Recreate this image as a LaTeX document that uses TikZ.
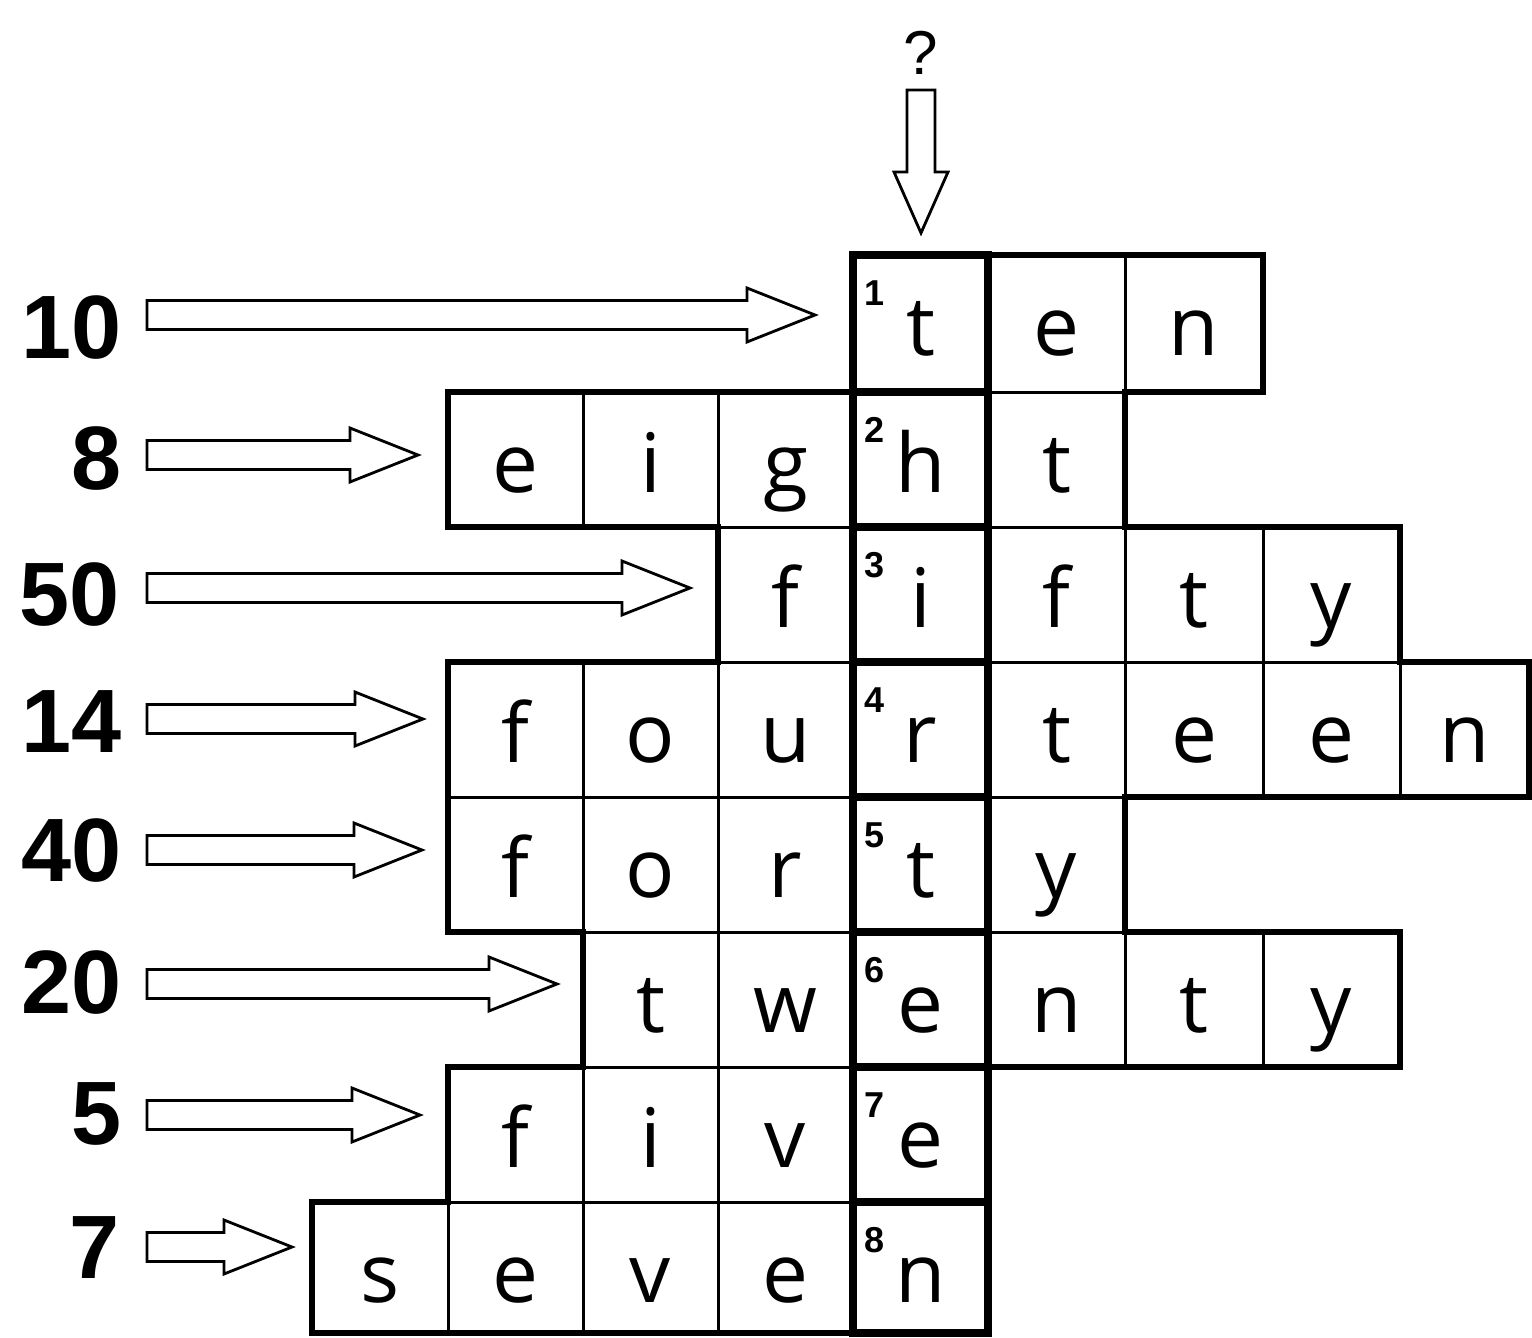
\documentclass[tikz,border=0pt]{standalone}
\usepackage{fontspec}
\setmainfont{Open Sans}
\newfontfamily\numfont{Liberation Sans}
\newcommand\wordrow[4]{%
  \foreach \xa/\xb/\ch in {#4} {%
    \draw[cellline] (\xa,#2) rectangle (\xb,#3);
    \node[letter] (L#1-\xa) at ({(\xa+\xb)/2},#2+100) {\ch};
  }%
}
\newcommand\blockarrow[4]{% name, tail x, tip x, y
  \coordinate (#1-tail) at (#2,#4);
  \coordinate (#1-tip) at (#3,#4);
  \draw[blk] (#2,#4-14.5) -- (#3-68,#4-14.5) -- (#3-68,#4-27) -- (#3,#4)
    -- (#3-68,#4+27) -- (#3-68,#4+14.5) -- (#2,#4+14.5) -- cycle;
}
\begin{document}
\begin{tikzpicture}[x=0.5pt,y=-0.5pt,
  cellline/.style={line width=1.5pt},
  outer/.style={line width=2.6pt,line join=miter},
  answer/.style={line width=4pt,line join=miter},
  blk/.style={line width=1.4pt,fill=white,line join=miter},
  letter/.style={anchor=base,inner sep=0pt,font=\fontsize{41}{41}\selectfont},
  clue/.style={anchor=east,inner sep=0pt,font=\numfont\bfseries\fontsize{45}{45}\selectfont},
  idx/.style={anchor=north west,inner sep=0pt,font=\numfont\bfseries\fontsize{18}{18}\selectfont},
  qmark/.style={anchor=base,inner sep=0pt,font=\numfont\fontsize{31}{31}\selectfont}]
\useasboundingbox (0,0) rectangle (1532,1338);
\fill[white] (0,0) rectangle (1532,1338);

% grid cells and letters
\wordrow{1}{255}{392}{853/988/t,988/1125/e,1125/1263/n}
\wordrow{2}{392}{527}{448/583/e,583/718/i,718/853/g,853/988/h,988/1125/t}
\wordrow{3}{527}{662}{718/853/f,853/988/i,988/1125/f,1125/1263/t,1263/1400/y}
\wordrow{4}{662}{797}{448/583/f,583/718/o,718/853/u,853/988/r,988/1125/t,1125/1263/e,1263/1400/e,1400/1529/n}
\wordrow{5}{797}{932}{448/583/f,583/718/o,718/853/r,853/988/t,988/1125/y}
\wordrow{6}{932}{1067}{583/718/t,718/853/w,853/988/e,988/1125/n,1125/1263/t,1263/1400/y}
\wordrow{7}{1067}{1202}{448/583/f,583/718/i,718/853/v,853/988/e}
\wordrow{8}{1202}{1333}{312/448/s,448/583/e,583/718/v,718/853/e,853/988/n}

% outer outline
\draw[outer] (853,255) -- (1263,255) -- (1263,392) -- (1125,392) -- (1125,527)
  -- (1400,527) -- (1400,662) -- (1529,662) -- (1529,797) -- (1125,797)
  -- (1125,932) -- (1400,932) -- (1400,1067) -- (988,1067) -- (988,1333)
  -- (312,1333) -- (312,1202) -- (448,1202) -- (448,1067) -- (583,1067)
  -- (583,932) -- (448,932) -- (448,662) -- (718,662) -- (718,527)
  -- (448,527) -- (448,392) -- (853,392) -- cycle;

% answer column
\foreach \n/\ya/\yb in {1/255/392,2/392/527,3/527/662,4/662/797,5/797/932,6/932/1067,7/1067/1202,8/1202/1333} {
  \draw[answer] (853,\ya) rectangle (988,\yb);
  \node[idx] (idx\n) at (864,\ya+25) {\n};
}

% clue numbers
\node[clue] (c10) at (122,328) {10};
\node[clue] (c8)  at (122,459) {8};
\node[clue] (c50) at (120,595) {50};
\node[clue] (c14) at (122,722) {14};
\node[clue] (c40) at (122,851) {40};
\node[clue] (c20) at (122,983) {20};
\node[clue] (c5)  at (122,1114) {5};
\node[clue] (c7)  at (120,1248) {7};

% arrows
\blockarrow{a1}{147}{815}{315}
\blockarrow{a2}{147}{418}{455}
\blockarrow{a3}{147}{690}{588}
\blockarrow{a4}{147}{423}{719}
\blockarrow{a5}{147}{422}{850}
\blockarrow{a6}{147}{557}{984}
\blockarrow{a7}{147}{420}{1115}
\blockarrow{a8}{147}{292}{1247}

% question mark and down arrow
\node[qmark] (q) at (921,75) {?};
\coordinate (qa-tail) at (921,90);
\coordinate (qa-tip) at (921,233);
\draw[blk] (907,90) -- (935,90) -- (935,172) -- (948,172) -- (921,233)
  -- (894,172) -- (907,172) -- cycle;
\end{tikzpicture}
\end{document}
